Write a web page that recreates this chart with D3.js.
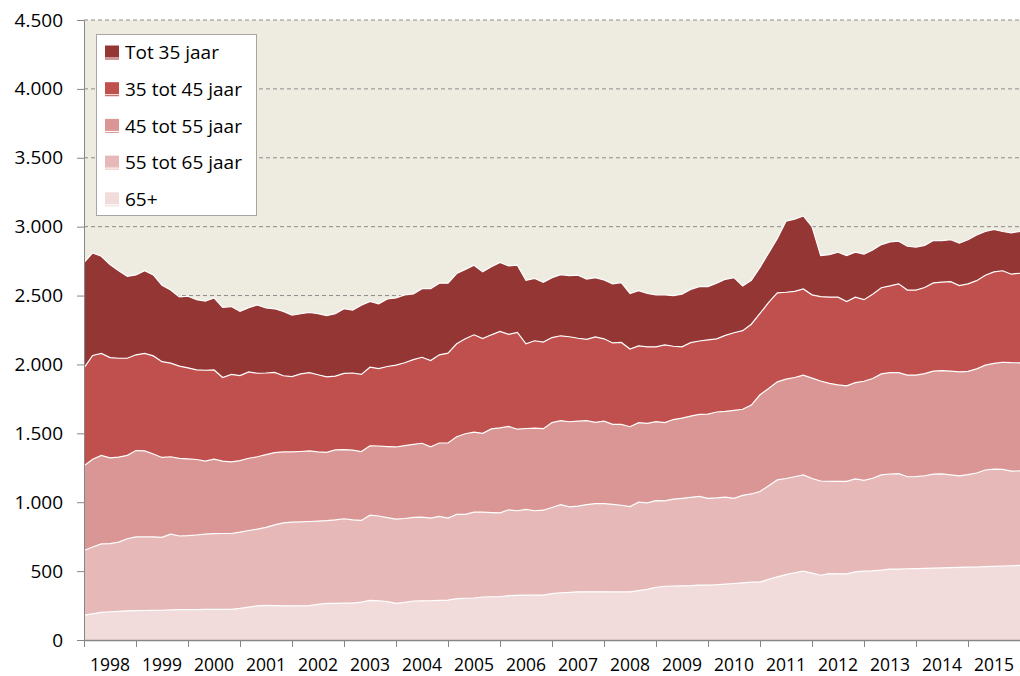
<!DOCTYPE html>
<html>
<head>
<meta charset="utf-8">
<script src="https://cdn.jsdelivr.net/npm/d3@7"></script>
<style>
  body { margin: 0; background: #fff; }
  svg { display: block; font-family: "Open Sans", sans-serif; }
</style>
</head>
<body>
<svg id="chart" width="1020" height="676"></svg>
<script>
// bimonthly readings, Jan 1998 .. Jan 2016 (6 per year)
const startYear = 1998, perYear = 6;
const years = [1998,1999,2000,2001,2002,2003,2004,2005,2006,2007,2008,2009,2010,2011,2012,2013,2014,2015];
const yTicks = [0,500,1000,1500,2000,2500,3000,3500,4000,4500];

const g65 = [180,190,200,205,208,212,213,214,215,216, 218,220,220,221,222,222,222,222,229,238,
  248,252,250,248,247,247,250,258,266,266, 267,268,275,288,285,278,266,273,283,284,
  285,287,290,300,303,305,312,314,314,322, 324,325,325,326,336,343,345,350,350,350,
  350,349,349,350,358,367,383,390,392,393, 394,399,398,401,405,410,415,420,420,440,
  458,475,488,500,485,470,482,480,480,495, 500,502,507,514,515,517,518,520,521,523,
  525,527,529,530,532,535,537,539,541];
const g55 = [470,485,498,495,502,523,535,534,533,529, 550,535,537,541,546,550,551,551,554,557,
  557,566,585,602,608,610,610,605,600,606, 613,604,593,618,615,610,611,609,607,608,
  600,610,595,612,609,623,616,611,609,623, 614,623,613,616,626,639,621,622,632,640,
  640,636,629,618,642,628,629,620,630,635, 641,644,630,630,632,618,635,640,658,680,
  704,697,697,698,687,684,670,672,672,675, 658,672,691,691,693,668,668,672,683,683,
  673,664,671,682,702,705,701,687,686];
const g45 = [615,637,642,622,618,605,627,625,602,580, 562,563,557,548,530,540,525,520,519,524,
  525,527,525,515,510,511,512,502,496,508, 502,506,500,504,508,516,524,529,530,536,
  517,533,545,563,585,580,572,607,616,605, 592,587,600,592,616,610,618,616,610,590,
  598,580,587,580,578,577,573,568,578,582, 590,594,612,624,622,639,625,645,702,705,
  712,721,720,724,729,726,711,700,693,698, 720,724,733,735,732,737,736,741,748,749,
  754,755,750,756,761,768,778,787,785];
const g35 = [710,753,740,728,717,705,695,707,712,695, 680,670,661,650,660,648,607,635,617,627,
  606,593,582,553,547,564,568,560,548,535, 553,560,560,570,562,581,594,601,615,624,
  626,640,652,675,689,707,688,683,701,668, 702,615,634,628,617,616,617,602,590,620,
  598,591,595,564,557,556,543,564,532,518, 533,533,538,531,552,563,570,587,590,625,
  646,631,625,626,604,612,625,636,611,620, 592,612,626,630,645,618,618,625,640,643,
  649,626,635,640,653,664,664,642,650];
const gTot35 = [765,745,705,675,635,595,580,600,588,555, 530,502,520,510,502,523,510,492,466,466,
  496,472,462,467,446,436,438,443,445,453, 470,457,502,477,470,491,488,493,477,498,
  522,520,508,510,504,505,484,495,500,497, 488,460,453,434,435,444,444,458,438,430,
  427,429,434,403,400,387,377,363,368,382, 387,395,387,404,407,400,325,318,335,360,
  395,516,525,530,495,298,309,326,334,327, 330,320,313,320,310,318,312,306,308,300,
  304,308,320,332,317,308,285,300,304];

const series = [
  { key: '65+',           values: g65,    color: '#F2DCDB' },
  { key: '55 tot 65 jaar', values: g55,   color: '#E6B9B8' },
  { key: '45 tot 55 jaar', values: g45,   color: '#D99694' },
  { key: '35 tot 45 jaar', values: g35,   color: '#C0504D' },
  { key: 'Tot 35 jaar',   values: gTot35, color: '#943634' }
];

(function(){
  const svg = d3.select('#chart');
  const left = 84, right = 1020, top = 20, bottom = 640;

  const rows = g65.map((_, i) => {
    const r = { t: startYear + i / perYear };
    series.forEach(s => { r[s.key] = s.values[i]; });
    return r;
  });

  const x = d3.scaleLinear().domain([startYear, startYear + years.length]).range([left, right]);
  const y = d3.scaleLinear().domain([0, 4500]).range([bottom, top]);
  const nl = d3.formatLocale({ decimal: ',', thousands: '.', grouping: [3], currency: ['€', ''] });

  // plot background
  svg.append('rect').attr('x', left).attr('y', top)
    .attr('width', right - left).attr('height', bottom - top).attr('fill', '#EEECE1');

  // gridlines
  svg.append('g').selectAll('line').data(yTicks.filter(d => d > 0)).join('line')
    .attr('x1', left).attr('x2', right)
    .attr('y1', d => y(d)).attr('y2', d => y(d))
    .attr('stroke', '#8C8C8C').attr('stroke-width', 1).attr('stroke-dasharray', '4,3');

  const stacked = d3.stack().keys(series.map(s => s.key))(rows);
  const area = d3.area().x(d => x(d.data.t)).y0(d => y(d[0])).y1(d => y(d[1]));
  const topLine = d3.line().x(d => x(d.data.t)).y(d => y(d[1]));

  svg.append('g').selectAll('path').data(stacked).join('path')
    .attr('d', area).attr('fill', (d, i) => series[i].color);
  svg.append('g').selectAll('path').data(stacked).join('path')
    .attr('d', topLine).attr('fill', 'none')
    .attr('stroke', '#fff').attr('stroke-width', 1.2);

  // y axis
  const yAxis = svg.append('g').attr('transform', 'translate(' + left + ',0)')
    .call(d3.axisLeft(y).tickValues(yTicks).tickFormat(nl.format(',')).tickSize(7).tickPadding(14));
  yAxis.select('.domain').attr('stroke', '#868686');
  yAxis.selectAll('.tick line').attr('stroke', '#868686');
  yAxis.selectAll('text').attr('fill', '#000').style('font-size', '19px')
    .style('font-family', '"Open Sans", sans-serif');

  // x axis: ticks at year boundaries, labels mid-year
  const xAxis = svg.append('g').attr('transform', 'translate(0,' + bottom + ')')
    .call(d3.axisBottom(x).tickValues(d3.range(startYear, startYear + years.length + 1))
      .tickFormat('').tickSize(7).tickSizeOuter(0));
  xAxis.select('.domain').attr('stroke', '#868686').attr('stroke-width', 1.5);
  xAxis.selectAll('.tick line').attr('stroke', '#868686');
  svg.append('g').selectAll('text').data(years).join('text')
    .attr('x', d => x(d + 0.5)).attr('y', 670.5)
    .attr('text-anchor', 'middle').style('font-size', '17.5px').text(d => d);

  // legend
  const lg = svg.append('g');
  lg.append('rect').attr('x', 96.5).attr('y', 34.5).attr('width', 160).attr('height', 181)
    .attr('fill', '#fff').attr('stroke', '#A6A6A6');
  const order = series.slice().reverse();
  const item = lg.selectAll('g.item').data(order).join('g')
    .attr('class', 'item')
    .attr('transform', (d, i) => 'translate(105,' + (52.5 + i * 36.7) + ')');
  item.append('rect').attr('x', 0).attr('y', -7).attr('width', 14).attr('height', 14)
    .attr('fill', d => d.color);
  item.append('line').attr('x1', 0).attr('x2', 14).attr('y1', 5.5).attr('y2', 5.5)
    .attr('stroke', '#fff').attr('stroke-width', 1);
  item.append('text').attr('x', 20).attr('dy', '0.35em')
    .style('font-size', '19px').text(d => d.key);
})();
</script>
</body>
</html>
